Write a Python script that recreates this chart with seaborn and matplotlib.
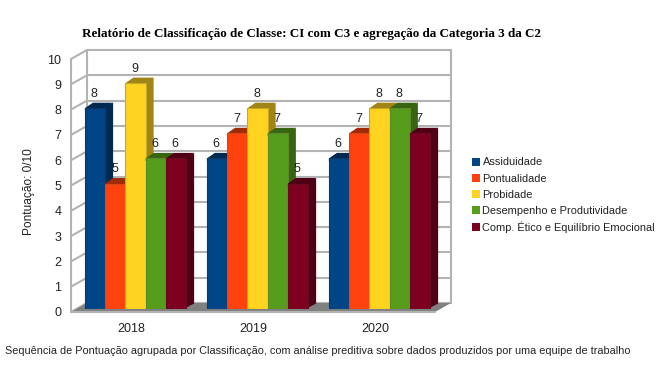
import pandas as pd
import matplotlib
matplotlib.use('Agg')
import matplotlib.pyplot as plt
from matplotlib.patches import Patch, Polygon
from matplotlib.transforms import ScaledTranslation
import seaborn as sns

years = ['2018', '2019', '2020']
series_names = ['Assiduidade', 'Pontualidade', 'Probidade',
                'Desempenho e Produtividade', 'Comp. Ético e Equilíbrio Emocional']
assiduidade = [8, 6, 6]
pontualidade = [5, 7, 7]
probidade = [9, 8, 8]
desempenho = [6, 7, 8]
comp_etico = [6, 5, 7]

front_colors = ['#004586', '#ff420e', '#ffd320', '#579d1c', '#7e0021']
side_colors = ['#002a52', '#a12a08', '#a08415', '#386512', '#4f0015']
edge_colors = ['#0a3a6a', '#d04a1a', '#c8a828', '#5f8a2a', '#6a0a20']

W, H = 665, 373
GRID = '#b3b3b3'

sns.set_style('white')
plt.rcParams['font.family'] = ['Liberation Sans', 'DejaVu Sans']

rows = []
for name, vals in zip(series_names, [assiduidade, pontualidade, probidade, desempenho, comp_etico]):
    for y, v in zip(years, vals):
        rows.append({'ano': y, 'serie': name, 'nota': v})
df = pd.DataFrame(rows)

fig = plt.figure(figsize=(W / 100, H / 100), dpi=100, facecolor='white')


def pixel_axes(x0, x1, ytop, ybottom):
    return fig.add_axes([x0 / W, 1 - ybottom / H, (x1 - x0) / W, (ybottom - ytop) / H])


# walls and grid: front plane of the box, back wall is shifted by a pixel offset
wall = pixel_axes(71, 435, 59, 312)
wall.set_xlim(-0.49, 2.49)
wall.set_ylim(0, 10)
wall.patch.set_alpha(0)
sns.despine(ax=wall, left=True, bottom=True)
wall.set_xticks(range(3), years)
wall.set_yticks(range(11))
wall.tick_params(axis='both', length=0, labelsize=9, labelcolor='#222222')
wall.tick_params(axis='x', pad=8)
wall.tick_params(axis='y', pad=7)
wall.set_ylabel('Pontuação: 0/10', fontsize=8.6, color='#222222')
wall.yaxis.set_label_coords((35 - 71) / 364, 0.474)

back = wall.transData + ScaledTranslation(16 / 100, 9 / 100, fig.dpi_scale_trans)
x0, x1 = wall.get_xlim()
for v in range(11):
    wall.plot([x0, x1], [v, v], color=GRID, lw=1.5, transform=back, clip_on=False, zorder=1)
    p0 = wall.transData.transform((x0, v))
    p1 = back.transform((x0, v))
    wall.plot([p0[0], p1[0]], [p0[1], p1[1]], color=GRID, lw=1.5, transform=None, clip_on=False, zorder=1)
wall.plot([x0, x0], [0, 10], color=GRID, lw=1.5, clip_on=False, zorder=1)
wall.plot([x0, x0], [0, 10], color=GRID, lw=1.5, transform=back, clip_on=False, zorder=1)
wall.plot([x1, x1], [0, 10], color=GRID, lw=1.5, transform=back, clip_on=False, zorder=1)

corners = [wall.transData.transform((x0, 0)), wall.transData.transform((x1, 0)),
           back.transform((x1, 0)), back.transform((x0, 0))]
wall.add_patch(Polygon(corners, closed=True, transform=None, facecolor='#808080',
                       edgecolor='none', clip_on=False, zorder=2))
wall.plot([x0, x1], [0, 0], color=GRID, lw=1.5, clip_on=False, zorder=2)

# bars on their own axes, they sit a bit behind the front edge of the floor
ax = pixel_axes(74.5, 440.5, 58, 309)
sns.barplot(data=df, x='ano', y='nota', hue='serie', hue_order=series_names,
            palette=front_colors, saturation=1, width=0.83, gap=0, legend=False, ax=ax)
ax.set_xlim(-0.5, 2.5)
ax.set_ylim(0, 10)
ax.patch.set_alpha(0)
ax.set_xticks([])
ax.set_yticks([])
ax.set_xlabel('')
ax.set_ylabel('')
sns.despine(ax=ax, left=True, bottom=True)

dx = 8 / 122
dy = 5.5 / 25.1
for i, cont in enumerate(ax.containers):
    for bar in cont:
        l, r, h = bar.get_x(), bar.get_x() + bar.get_width(), bar.get_height()
        bar.set_zorder(4 + 2 * i)
        bar.set_edgecolor(edge_colors[i])
        bar.set_linewidth(0.8)
        # side and top run a little under the front face so no gap shows
        ax.add_patch(Polygon([(r - 0.02, 0), (r + dx, dy), (r + dx, h + dy), (r - 0.02, h)], closed=True,
                             facecolor=side_colors[i], edgecolor='none', clip_on=False, zorder=3 + 2 * i))
        ax.add_patch(Polygon([(l, h - 0.1), (l, h), (l + dx, h + dy), (r + dx, h + dy), (r, h), (r, h - 0.1)],
                             closed=True, facecolor=side_colors[i], edgecolor='none', clip_on=False,
                             zorder=3 + 2 * i))
        ax.annotate(f'{h:.0f}', (l + bar.get_width() / 2, h), xytext=(-0.5, 10.5), textcoords='offset points',
                    ha='center', va='center', fontsize=9, color='#222222', annotation_clip=False, zorder=30)

handles = [Patch(facecolor=c, edgecolor='none') for c in front_colors]
fig.legend(handles, series_names, loc='upper left', bbox_to_anchor=(472 / W, 1 - 157.5 / H), frameon=False,
           fontsize=7.95, labelcolor='#222222', handlelength=0.75, handleheight=0.75, handletextpad=0.2,
           labelspacing=0.55, borderaxespad=0, borderpad=0)

fig.text(311.5 / W, 1 - 33.5 / H, 'Relatório de Classificação de Classe: CI com C3 e agregação da Categoria 3 da C2',
         family=['Liberation Serif'], weight='bold', fontsize=9.45, color='black', ha='center', va='center')
fig.text(5 / W, 1 - 351.5 / H,
         'Sequência de Pontuação agrupada por Classificação, com análise preditiva sobre dados produzidos por uma equipe de trabalho',
         fontsize=7.86, color='#222222', ha='left', va='center')

fig.savefig('out.png', dpi=100, facecolor='white')
